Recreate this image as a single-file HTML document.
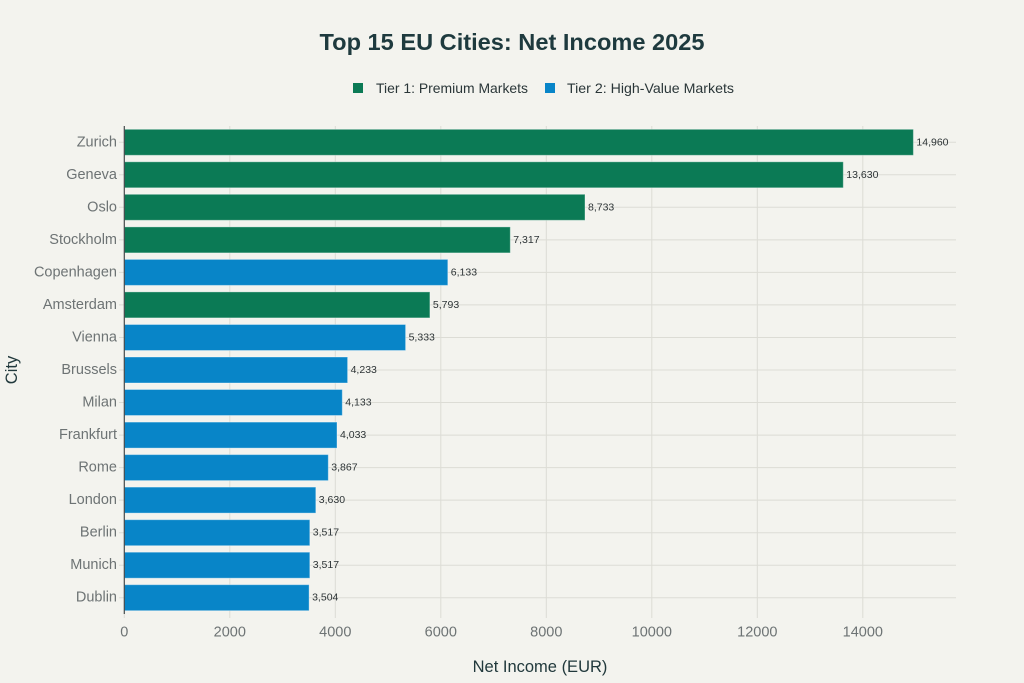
<!DOCTYPE html>
<html>
<head>
<meta charset="utf-8">
<style>
html,body{margin:0;padding:0;background:#f3f3ee;}
svg{display:block;}
text{font-family:"Liberation Sans",sans-serif;}
</style>
</head>
<body>
<svg width="1024" height="683" viewBox="0 0 1024 683" xmlns="http://www.w3.org/2000/svg">
<rect width="1024" height="683" fill="#f3f3ee"/>
<!-- Title -->
<text x="512" y="50" text-anchor="middle" font-size="23" font-weight="bold" fill="#1e3a3e" textLength="385" lengthAdjust="spacingAndGlyphs">Top 15 EU Cities: Net Income 2025</text>
<!-- Legend -->
<rect x="353" y="83" width="10" height="10" fill="#0b7a55"/>
<text x="376" y="93" font-size="14" fill="#2a3638" textLength="152" lengthAdjust="spacingAndGlyphs">Tier 1: Premium Markets</text>
<rect x="545" y="83" width="10" height="10" fill="#0885c8"/>
<text x="567" y="93" font-size="14" fill="#2a3638" textLength="167" lengthAdjust="spacingAndGlyphs">Tier 2: High-Value Markets</text>

<!-- Vertical gridlines -->
<g stroke="#dcdcd5" stroke-width="1">
<line x1="229.8" y1="126" x2="229.8" y2="618"/>
<line x1="335.3" y1="126" x2="335.3" y2="618"/>
<line x1="440.8" y1="126" x2="440.8" y2="618"/>
<line x1="546.3" y1="126" x2="546.3" y2="618"/>
<line x1="651.8" y1="126" x2="651.8" y2="618"/>
<line x1="757.3" y1="126" x2="757.3" y2="618"/>
<line x1="862.8" y1="126" x2="862.8" y2="618"/>
<line x1="124.3" y1="614" x2="124.3" y2="618"/>
</g>
<!-- Horizontal gridlines -->
<g stroke="#dcdcd5" stroke-width="1">
<line x1="119" y1="142.3" x2="956" y2="142.3"/>
<line x1="119" y1="174.8" x2="956" y2="174.8"/>
<line x1="119" y1="207.3" x2="956" y2="207.3"/>
<line x1="119" y1="239.9" x2="956" y2="239.9"/>
<line x1="119" y1="272.4" x2="956" y2="272.4"/>
<line x1="119" y1="304.9" x2="956" y2="304.9"/>
<line x1="119" y1="337.5" x2="956" y2="337.5"/>
<line x1="119" y1="370.0" x2="956" y2="370.0"/>
<line x1="119" y1="402.5" x2="956" y2="402.5"/>
<line x1="119" y1="435.1" x2="956" y2="435.1"/>
<line x1="119" y1="467.6" x2="956" y2="467.6"/>
<line x1="119" y1="500.1" x2="956" y2="500.1"/>
<line x1="119" y1="532.7" x2="956" y2="532.7"/>
<line x1="119" y1="565.2" x2="956" y2="565.2"/>
<line x1="119" y1="597.7" x2="956" y2="597.7"/>
</g>

<!-- Bars -->
<g stroke="rgba(255,255,255,0.35)" stroke-width="1">
<rect x="124.3" y="129.3" width="789.1" height="26" fill="#0b7a55"/>
<rect x="124.3" y="161.8" width="719.0" height="26" fill="#0b7a55"/>
<rect x="124.3" y="194.3" width="460.7" height="26" fill="#0b7a55"/>
<rect x="124.3" y="226.9" width="386.0" height="26" fill="#0b7a55"/>
<rect x="124.3" y="259.4" width="323.5" height="26" fill="#0885c8"/>
<rect x="124.3" y="291.9" width="305.6" height="26" fill="#0b7a55"/>
<rect x="124.3" y="324.5" width="281.3" height="26" fill="#0885c8"/>
<rect x="124.3" y="357.0" width="223.3" height="26" fill="#0885c8"/>
<rect x="124.3" y="389.5" width="218.0" height="26" fill="#0885c8"/>
<rect x="124.3" y="422.1" width="212.7" height="26" fill="#0885c8"/>
<rect x="124.3" y="454.6" width="204.0" height="26" fill="#0885c8"/>
<rect x="124.3" y="487.1" width="191.5" height="26" fill="#0885c8"/>
<rect x="124.3" y="519.7" width="185.5" height="26" fill="#0885c8"/>
<rect x="124.3" y="552.2" width="185.5" height="26" fill="#0885c8"/>
<rect x="124.3" y="584.7" width="184.8" height="26" fill="#0885c8"/>
</g>

<!-- Axis line -->
<line x1="124.3" y1="126" x2="124.3" y2="614" stroke="#444a4c" stroke-width="1.2"/>

<!-- Data labels -->
<g font-size="10.5" fill="#2d3436" dominant-baseline="central">
<text x="916.4" y="142.3">14,960</text>
<text x="846.3" y="174.8">13,630</text>
<text x="588.0" y="207.3">8,733</text>
<text x="513.3" y="239.9">7,317</text>
<text x="450.8" y="272.4">6,133</text>
<text x="432.9" y="304.9">5,793</text>
<text x="408.6" y="337.5">5,333</text>
<text x="350.6" y="370.0">4,233</text>
<text x="345.3" y="402.5">4,133</text>
<text x="340.0" y="435.1">4,033</text>
<text x="331.3" y="467.6">3,867</text>
<text x="318.8" y="500.1">3,630</text>
<text x="312.8" y="532.7">3,517</text>
<text x="312.8" y="565.2">3,517</text>
<text x="312.1" y="597.7">3,504</text>
</g>

<!-- Y tick labels -->
<g font-size="14.5" fill="#6d7374" text-anchor="end" dominant-baseline="central">
<text x="117" y="142.3">Zurich</text>
<text x="117" y="174.8">Geneva</text>
<text x="117" y="207.3">Oslo</text>
<text x="117" y="239.9">Stockholm</text>
<text x="117" y="272.4">Copenhagen</text>
<text x="117" y="304.9">Amsterdam</text>
<text x="117" y="337.5">Vienna</text>
<text x="117" y="370.0">Brussels</text>
<text x="117" y="402.5">Milan</text>
<text x="117" y="435.1">Frankfurt</text>
<text x="117" y="467.6">Rome</text>
<text x="117" y="500.1">London</text>
<text x="117" y="532.7">Berlin</text>
<text x="117" y="565.2">Munich</text>
<text x="117" y="597.7">Dublin</text>
</g>

<!-- X tick labels -->
<g font-size="14.5" fill="#6d7374" text-anchor="middle" dominant-baseline="central">
<text x="124.3" y="632.5">0</text>
<text x="229.8" y="632.5">2000</text>
<text x="335.3" y="632.5">4000</text>
<text x="440.8" y="632.5">6000</text>
<text x="546.3" y="632.5">8000</text>
<text x="651.8" y="632.5">10000</text>
<text x="757.3" y="632.5">12000</text>
<text x="862.8" y="632.5">14000</text>
</g>

<!-- Axis titles -->
<text x="540" y="667" font-size="16.5" fill="#21393c" text-anchor="middle" dominant-baseline="central">Net Income (EUR)</text>
<text x="0" y="0" font-size="16.5" fill="#21393c" text-anchor="middle" dominant-baseline="central" transform="translate(12,370) rotate(-90)">City</text>
</svg>
</body>
</html>
